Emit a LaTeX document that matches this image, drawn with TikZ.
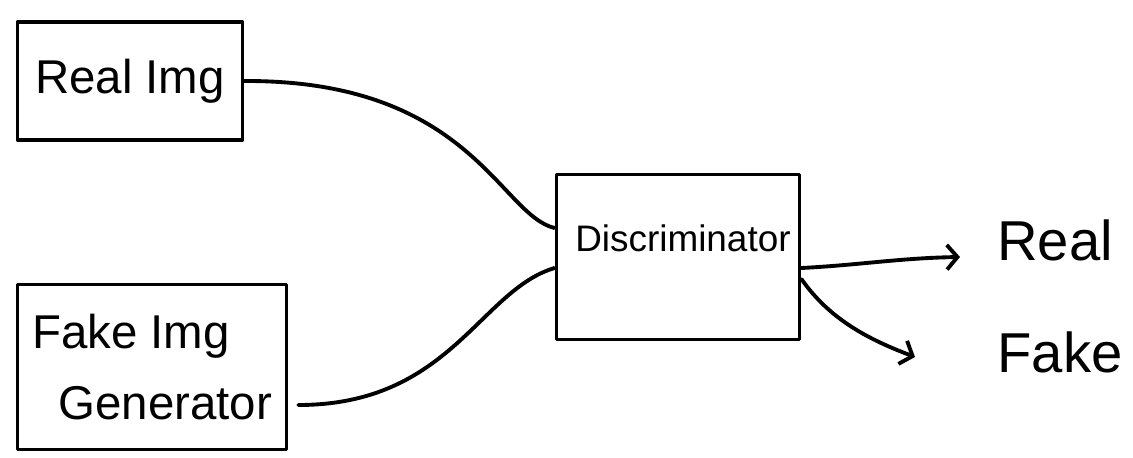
\documentclass[tikz,border=0pt]{standalone}
\usepackage{fontspec}
\setmainfont{Liberation Sans}
\usetikzlibrary{arrows.meta}
\begin{document}
\begin{tikzpicture}[x=0.02cm,y=-0.02cm,
  sketch/.style={draw=black, line width=2.2pt, line cap=round, line join=round},
  boxnode/.style={sketch, rectangle, inner sep=0pt},
  wire/.style={sketch},
  arrowwire/.style={sketch, -{Straight Barb[length=6pt,width=14pt,line width=2.2pt]}},
  lbl/.style={inner sep=0pt}]
\useasboundingbox (0,0) rectangle (1133,457);
\node[boxnode, minimum width=4.5cm, minimum height=2.36cm, font=\fontsize{27}{32}\selectfont] (realbox) at (130,81) {Real Img};
\node[boxnode, minimum width=5.38cm, minimum height=3.3cm, align=left, font=\fontsize{27}{38}\selectfont] (fakebox) at (152,367) {Fake Img\\[2pt]\ \ Generator};
\node[boxnode, minimum width=4.86cm, minimum height=3.3cm] (disc) at (678,257) {};
\node[lbl, font=\fontsize{21}{26}\selectfont, anchor=west] (disctext) at (575,238) {Discriminator};
\node[lbl, font=\fontsize{32}{38}\selectfont] (reallbl) at (1055,240) {Real};
\node[lbl, font=\fontsize{32}{38}\selectfont] (fakelbl) at (1060,352) {Fake};
\coordinate (realtip) at (960,257);
\coordinate (faketip) at (915,357);
\draw[wire] (realbox.east) .. controls (470,80) and (500,215) .. ([yshift=0.58cm]disc.west);
\draw[wire] ([xshift=0.2cm,yshift=-0.76cm]fakebox.east) .. controls (450,405) and (480,290) .. ([yshift=-0.22cm]disc.west);
\draw[arrowwire] ([yshift=-0.22cm]disc.east) .. controls (860,265) and (900,258) .. (realtip);
\draw[arrowwire] ([yshift=-0.44cm]disc.east) .. controls (830,320) and (870,340) .. (faketip);
\end{tikzpicture}
\end{document}
